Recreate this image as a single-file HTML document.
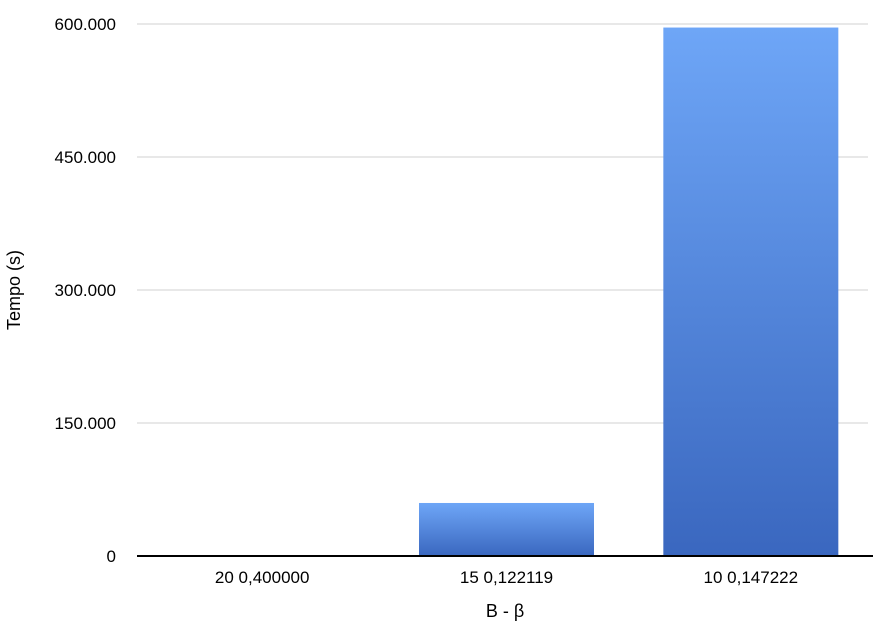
<!DOCTYPE html>
<html><head><meta charset="utf-8"><style>
body{margin:0;background:#fff;font-family:"Liberation Sans",sans-serif;}
</style></head><body>
<svg id="chart" width="873" height="628" xmlns="http://www.w3.org/2000/svg">
<defs><linearGradient id="g" x1="0" y1="0" x2="0" y2="1"><stop offset="0" stop-color="#6ea6f7"/><stop offset="1" stop-color="#3a67bf"/></linearGradient></defs>
<g id="grid"></g><g id="bars"></g><g id="labels"></g>
<line x1="137" y1="556" x2="873" y2="556" stroke="#000" stroke-width="2"/>
<text x="505" y="617" font-size="18" text-anchor="middle">B - β</text>
<text transform="translate(20,290) rotate(-90)" font-size="18" text-anchor="middle">Tempo (s)</text>
</svg>
<script>
const categories=["20 0,400000","15 0,122119","10 0,147222"];
const values=[0,59800,596000];
const ticks=[0,150000,300000,450000,600000];
const tickLabels=["0","150.000","300.000","450.000","600.000"];
const ns="http://www.w3.org/2000/svg";
const x0=140,x1=873,yBase=556,yTop=24,maxV=600000;
const y=v=>yBase-(v/maxV)*(yBase-yTop);
const band=(x1-x0)/categories.length;
const xc=i=>x0+band*(i+0.5);
function mk(t,a,p){const e=document.createElementNS(ns,t);for(const k in a)e.setAttribute(k,a[k]);p.appendChild(e);return e;}
const grid=document.getElementById('grid'),bars=document.getElementById('bars'),labels=document.getElementById('labels');
ticks.forEach((t,i)=>{
 if(t>0){const l=mk('line',{x1:137,x2:868,y1:y(t),y2:y(t),stroke:'#d0d0d0','stroke-width':1},grid);
 
 }
 const tx=mk('text',{x:116,y:y(t)+6,'font-size':17,'text-anchor':'end'},labels);
 tx.textContent=tickLabels[i];
 
 
});
categories.forEach((c,i)=>{
 const h=yBase-y(values[i]);
 if(h>0){const r=mk('rect',{x:xc(i)-87.5,y:y(values[i]),width:175,height:h,fill:'url(#g)'},bars);
 
 }
 const tx=mk('text',{x:xc(i),y:583,'font-size':17,'text-anchor':'middle'},labels);
 tx.textContent=c;
 
 
});
</script>
</body></html>
